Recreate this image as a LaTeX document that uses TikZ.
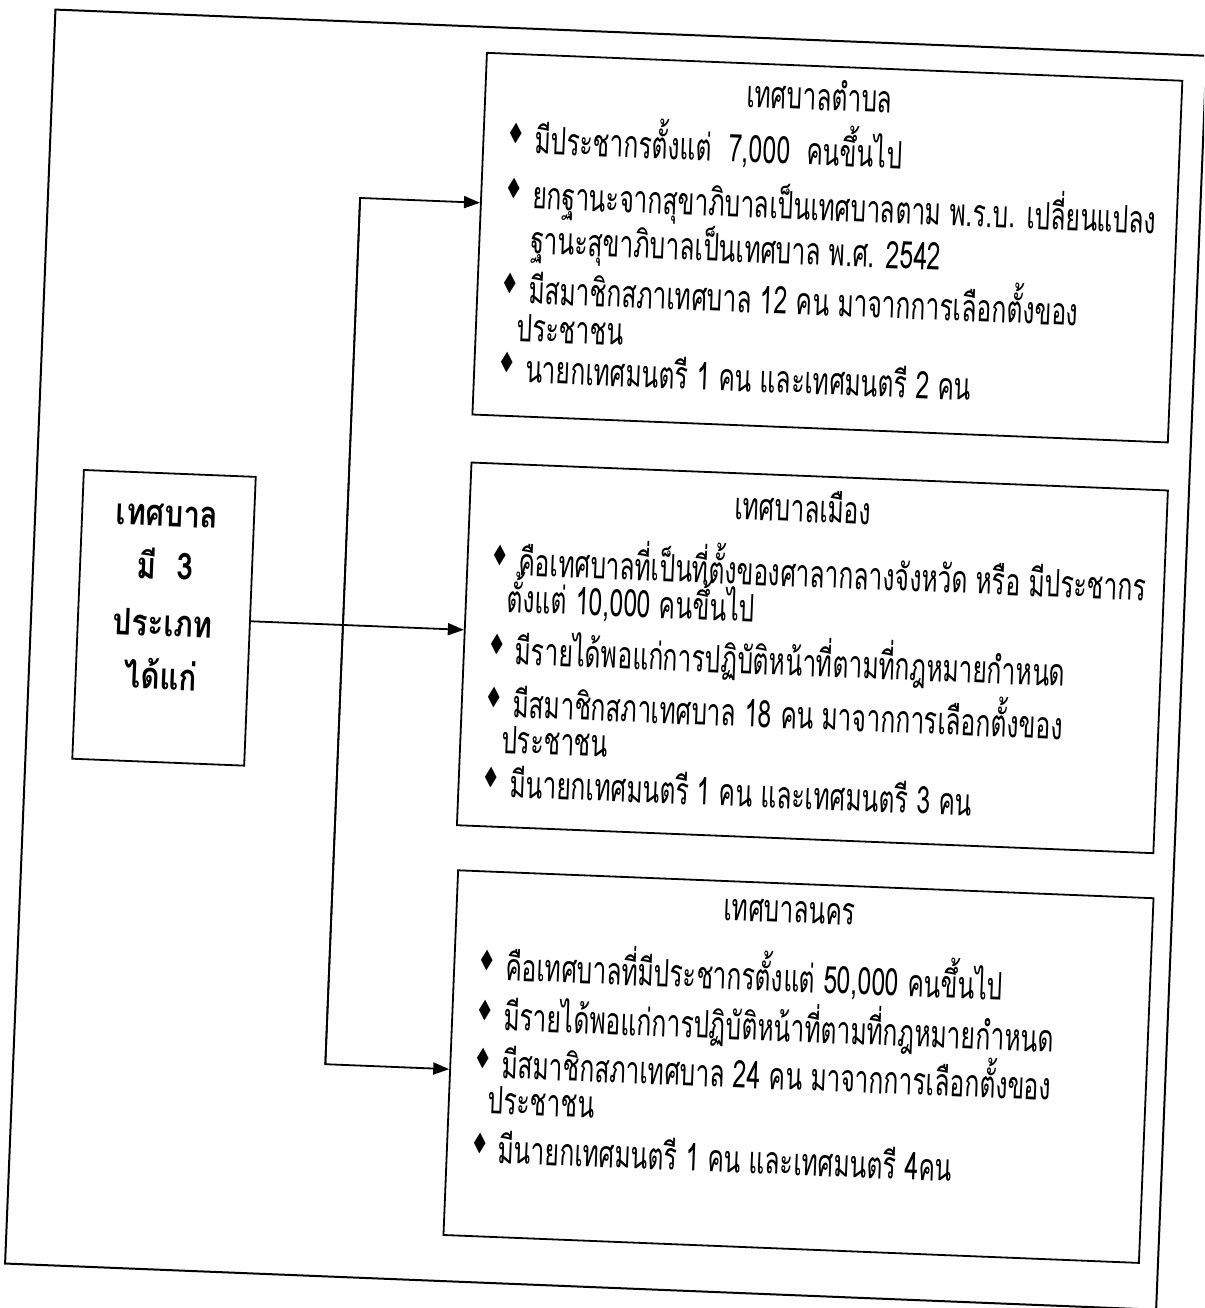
\documentclass[tikz,border=0pt]{standalone}
\usepackage{fontspec}
\usepackage{graphicx}
\usetikzlibrary{arrows.meta}
\setmainfont[Script=Thai,FakeStretch=0.65]{Loma}
\newfontfamily\lblfont[Script=Thai,FakeStretch=0.8]{Loma}
\newfontfamily\djv{DejaVu Sans}
\newcommand\bodyfont{\fontsize{38}{40}\selectfont}
\newcommand\bul{\makebox[24pt][l]{\hspace{-4pt}\raisebox{9pt}{\djv\fontsize{26}{26}\selectfont\scalebox{0.8}[1.1]{♦}}}}
\begin{document}
\begin{tikzpicture}[x=1pt,y=-1pt,
  frame/.style={draw,line width=2pt},
  box/.style={draw,line width=1.8pt,anchor=north west,inner sep=0pt},
  txt/.style={anchor=base west,inner sep=0pt,font=\bodyfont},
  ttl/.style={anchor=base,inner sep=0pt,font=\bodyfont},
  lbl/.style={anchor=base,inner sep=0pt,font=\lblfont\fontsize{37}{40}\selectfont\bfseries},
  arr/.style={line width=1.8pt,-{Triangle[length=16pt,width=12pt]}}]
\useasboundingbox (0,0) rectangle (1204,1308);
\clip (0,0) rectangle (1204,1308);
\begin{scope}[rotate around={-2.3:(602,654)},transform shape]
% outer frame
\draw[frame] (30,32) rectangle (1182,1287);
% boxes
\node[box,minimum width=172pt,minimum height=289pt] (L) at (76,490) {};
\node[box,minimum width=696pt,minimum height=362pt] (T) at (462,57) {};
\node[box,minimum width=697pt,minimum height=363pt] (M) at (463,467) {};
\node[box,minimum width=696pt,minimum height=365pt] (N) at (466,875) {};
% left label
\node[lbl] (l1) at (162,544) {เทศบาล};
\node[lbl] (l2) at (162,597) {มี\ \ 3};
\node[lbl] (l3) at (162,654) {ประเภท};
\node[lbl] (l4) at (162,707) {ได้แก่};
% box 1
\node[ttl] (t0) at (797,102) {เทศบาลตำบล};
\node[txt] (t1) at (490,157) {\bul มีประชากรตั้งแต่\ \ 7,000\ \ คนขึ้นไป};
\node[txt] (t2) at (490,212) {\bul ยกฐานะจากสุขาภิบาลเป็นเทศบาลตาม พ.ร.บ. เปลี่ยนแปลง};
\node[txt] (t3) at (514,257) {ฐานะสุขาภิบาลเป็นเทศบาล พ.ศ. 2542};
\node[txt] (t4) at (490,307) {\bul มีสมาชิกสภาเทศบาล 12 คน มาจากการเลือกตั้งของ};
\node[txt] (t5) at (504,345) {ประชาชน};
\node[txt] (t6) at (490,386) {\bul นายกเทศมนตรี 1 คน และเทศมนตรี 2 คน};
% box 2
\node[ttl] (m0) at (797,514) {เทศบาลเมือง};
\node[txt] (m1) at (491,579) {\bul คือเทศบาลที่เป็นที่ตั้งของศาลากลางจังหวัด หรือ มีประชากร};
\node[txt] (m2) at (505,616) {ตั้งแต่ 10,000 คนขึ้นไป};
\node[txt] (m3) at (491,668) {\bul มีรายได้พอแก่การปฏิบัติหน้าที่ตามที่กฎหมายกำหนด};
\node[txt] (m4) at (491,721) {\bul มีสมาชิกสภาเทศบาล 18 คน มาจากการเลือกตั้งของ};
\node[txt] (m5) at (505,757) {ประชาชน};
\node[txt] (m6) at (491,801) {\bul มีนายกเทศมนตรี 1 คน และเทศมนตรี 3 คน};
% box 3
\node[ttl] (n0) at (800,915) {เทศบาลนคร};
\node[txt] (n1) at (494,984) {\bul คือเทศบาลที่มีประชากรตั้งแต่ 50,000 คนขึ้นไป};
\node[txt] (n2) at (494,1034) {\bul มีรายได้พอแก่การปฏิบัติหน้าที่ตามที่กฎหมายกำหนด};
\node[txt] (n3) at (494,1082) {\bul มีสมาชิกสภาเทศบาล 24 คน มาจากการเลือกตั้งของ};
\node[txt] (n4) at (506,1118) {ประชาชน};
\node[txt] (n5) at (494,1167) {\bul มีนายกเทศมนตรี 1 คน และเทศมนตรี 4คน};
% connectors
\coordinate (jt) at (342,208);
\coordinate (jb) at (342,1075);
\draw[arr] (jb) -- (jt) -- (jt -| T.west);
\draw[arr] (jt) -- (jb) -- (jb -| N.west);
\draw[arr] (L.east) -- (L.east -| M.west);
\end{scope}
\end{tikzpicture}
\end{document}
